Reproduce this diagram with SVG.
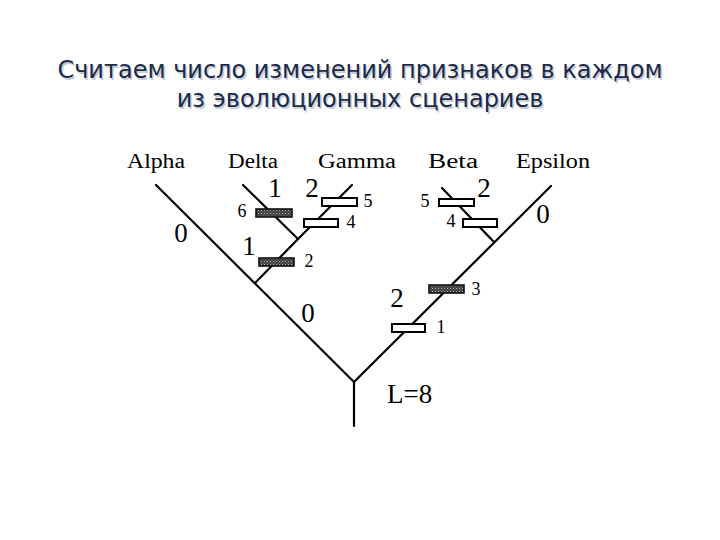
<svg xmlns="http://www.w3.org/2000/svg" width="720" height="540" viewBox="0 0 720 540">
<defs>
<pattern id="stip" width="3" height="3" patternUnits="userSpaceOnUse">
<rect width="3" height="3" fill="#3a3a3a"/>
<rect x="0" y="0" width="1" height="1" fill="#bdbdbd"/>
<rect x="1.5" y="1.5" width="1" height="1" fill="#9a9a9a"/>
</pattern>
</defs>
<style>
.title{font-family:"DejaVu Sans","Noto Sans",sans-serif;font-size:24px;text-anchor:middle}
.tf{fill:#1a2a48}
.ts{fill:#c8ccd4}
.br{stroke:#000;stroke-width:2.2;fill:none;stroke-linecap:round}
.lbl{font-family:"Liberation Serif",serif;font-size:20px;text-anchor:middle;fill:#000}
.big{font-family:"Liberation Serif",serif;font-size:27px;text-anchor:middle;fill:#000}
.sm{font-family:"Liberation Serif",serif;font-size:18px;text-anchor:middle;fill:#000}
.fb{fill:url(#stip);stroke:#111;stroke-width:1.6}
.ob{fill:#fff;stroke:#000;stroke-width:2}
</style>
<rect width="720" height="540" fill="#fff"/>
<g id="title">
<text class="title ts" x="361.5" y="79.5">Считаем число изменений признаков в каждом</text>
<text class="title ts" x="361.5" y="108.5">из эволюционных сценариев</text>
<text class="title tf" x="360" y="78">Считаем число изменений признаков в каждом</text>
<text class="title tf" x="360" y="107">из эволюционных сценариев</text>
</g>
<g id="connectors">
<line class="br" x1="354" y1="382" x2="354" y2="426"/>
<line class="br" x1="156" y1="185" x2="354" y2="382"/>
<line class="br" x1="354" y1="382" x2="551" y2="186"/>
<line class="br" x1="255" y1="283" x2="298" y2="239"/>
<line class="br" x1="243" y1="185" x2="298" y2="239"/>
<line class="br" x1="298" y1="239" x2="352" y2="185"/>
<line class="br" x1="442" y1="188" x2="494" y2="242"/>
</g>
<g id="node-alpha"><text class="lbl" x="156" y="168" textLength="58" lengthAdjust="spacingAndGlyphs">Alpha</text></g>
<g id="node-delta"><text class="lbl" x="253" y="168" textLength="50" lengthAdjust="spacingAndGlyphs">Delta</text></g>
<g id="node-gamma"><text class="lbl" x="357" y="168" textLength="78" lengthAdjust="spacingAndGlyphs">Gamma</text></g>
<g id="node-beta"><text class="lbl" x="453" y="168" textLength="50" lengthAdjust="spacingAndGlyphs">Beta</text></g>
<g id="node-epsilon"><text class="lbl" x="553" y="168" textLength="74" lengthAdjust="spacingAndGlyphs">Epsilon</text></g>
<g id="marks">
<rect class="fb" x="256" y="209" width="36" height="8"/>
<rect class="fb" x="259" y="258" width="35" height="8"/>
<rect class="ob" x="322" y="198" width="35" height="8"/>
<rect class="ob" x="304" y="219" width="34" height="8"/>
<rect class="ob" x="439" y="199" width="35" height="7"/>
<rect class="ob" x="463" y="219" width="34" height="8"/>
<rect class="fb" x="429" y="285" width="35" height="8"/>
<rect class="ob" x="392" y="324" width="33" height="8"/>
</g>
<g id="counts">
<text class="big" x="181" y="242">0</text>
<text class="big" x="275" y="197">1</text>
<text class="big" x="249" y="255">1</text>
<text class="big" x="312" y="197">2</text>
<text class="big" x="484" y="197">2</text>
<text class="big" x="543" y="223">0</text>
<text class="big" x="397" y="307">2</text>
<text class="big" x="308" y="322">0</text>
<text class="sm" x="242" y="217">6</text>
<text class="sm" x="309" y="267">2</text>
<text class="sm" x="351" y="228">4</text>
<text class="sm" x="368" y="207">5</text>
<text class="sm" x="425" y="207">5</text>
<text class="sm" x="451" y="227">4</text>
<text class="sm" x="476" y="295">3</text>
<text class="sm" x="441" y="333">1</text>
<text class="big" x="387" y="403" style="text-anchor:start">L=8</text>
</g>
</svg>
